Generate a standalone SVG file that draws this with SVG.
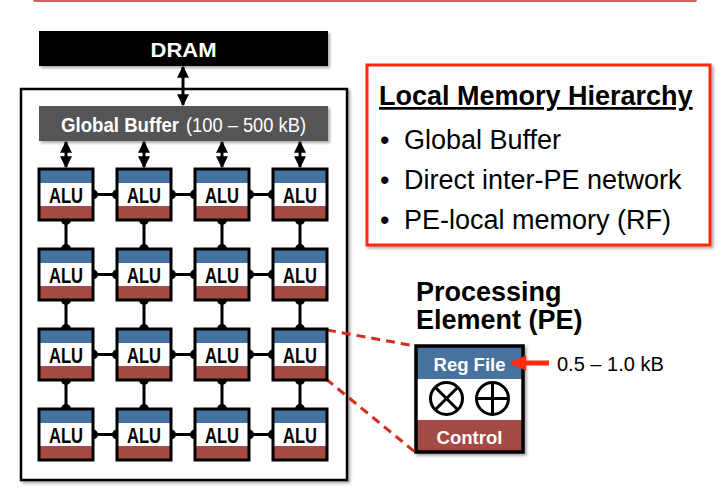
<svg xmlns="http://www.w3.org/2000/svg" width="726" height="491" viewBox="0 0 726 491">
<defs>
<style>
.sans{font-family:"Liberation Sans",Arial,sans-serif}
.cellb{fill:#4672a0}
.cellr{fill:#a54a44}
.cellw{fill:#ffffff}
.cellf{fill:none;stroke:#000;stroke-width:3}
.alu{font-family:"Liberation Sans",Arial,sans-serif;font-weight:bold;font-size:22px;fill:#000;text-anchor:middle}
.link{stroke:#000;stroke-width:3;fill:none}
.nub{fill:#000}
.dash{stroke:#d2301c;stroke-width:3;stroke-dasharray:9,6;fill:none}
</style>
<marker id="ah" viewBox="0 0 10 10" refX="9" refY="5" markerWidth="4" markerHeight="4" orient="auto-start-reverse">
<path d="M0,0 L10,5 L0,10 z" fill="#000"/>
</marker>
<marker id="rah" viewBox="0 0 10 10" refX="9" refY="5" markerWidth="3.2" markerHeight="3.2" orient="auto">
<path d="M0,0 L10,5 L0,10 z" fill="#ff2a10"/>
</marker>
<filter id="sh" x="-10%" y="-10%" width="120%" height="120%">
<feGaussianBlur in="SourceAlpha" stdDeviation="1.5"/>
<feOffset dx="2" dy="2" result="b"/>
<feComponentTransfer><feFuncA type="linear" slope="0.35"/></feComponentTransfer>
<feMerge><feMergeNode/><feMergeNode in="SourceGraphic"/></feMerge>
</filter>
<g id="pecell">
<rect x="0" y="0" width="54" height="14" class="cellb"/>
<rect x="0" y="14" width="54" height="23" class="cellw"/>
<rect x="0" y="37" width="54" height="14" class="cellr"/>
<rect x="0" y="0" width="54" height="51" class="cellf"/>
<text x="27" y="34" class="alu" textLength="34" lengthAdjust="spacingAndGlyphs">ALU</text>
</g>
</defs>

<rect width="726" height="491" fill="#ffffff"/>

<g id="topbar">
<rect x="33" y="-3" width="664" height="5" rx="2" fill="#cf6360"/>
</g>

<g id="frame">
<rect x="21" y="89" width="326" height="391" fill="#ffffff" stroke="#000" stroke-width="2.5" filter="url(#sh)"/>
</g>

<g id="dram">
<rect x="39" y="31" width="289" height="35" fill="#000" filter="url(#sh)"/>
<text x="183.5" y="57" class="sans" font-weight="bold" font-size="21" fill="#fff" text-anchor="middle" textLength="66" lengthAdjust="spacingAndGlyphs">DRAM</text>
</g>

<g id="globalbuffer">
<rect x="39" y="106" width="289" height="35" fill="#555555" filter="url(#sh)"/>
<text x="61" y="131.5" class="sans" font-weight="bold" font-size="21" fill="#fff" textLength="118" lengthAdjust="spacingAndGlyphs">Global Buffer</text>
<text x="186" y="131.5" class="sans" font-size="21" fill="#fff" textLength="120" lengthAdjust="spacingAndGlyphs">(100 – 500 kB)</text>
</g>

<g id="legend">
<rect x="367" y="65" width="343" height="180" fill="#ffffff" stroke="#ff2a10" stroke-width="3" filter="url(#sh)"/>
<text x="379" y="105" class="sans" font-weight="bold" font-size="27" fill="#000" text-decoration="underline">Local Memory Hierarchy</text>
<g class="sans" font-size="27" fill="#000">
<text x="380" y="149">•</text><text x="404" y="149">Global Buffer</text>
<text x="380" y="189">•</text><text x="404" y="189">Direct inter-PE network</text>
<text x="380" y="229">•</text><text x="404" y="229">PE-local memory (RF)</text>
</g>
</g>

<g id="pe-title">
<text class="sans" font-weight="bold" font-size="27" fill="#000"><tspan x="416" y="301">Processing</tspan><tspan x="416" y="329">Element (PE)</tspan></text>
</g>

<g id="pe-detail">
<g filter="url(#sh)">
<rect x="416" y="346" width="107" height="33" fill="#4672a0"/>
<rect x="416" y="379" width="107" height="41" fill="#ffffff"/>
<rect x="416" y="420" width="107" height="32" fill="#a54a44"/>
<rect x="416" y="346" width="107" height="106" fill="none" stroke="#000" stroke-width="3.5"/>
</g>
<text x="469.5" y="371" class="sans" font-weight="bold" font-size="18.5" fill="#fff" text-anchor="middle">Reg File</text>
<text x="469.5" y="444" class="sans" font-weight="bold" font-size="18.5" fill="#fff" text-anchor="middle">Control</text>
<g stroke="#000" stroke-width="3" fill="none">
<circle cx="446.5" cy="398.5" r="16"/>
<path d="M435.2,387.2 L457.8,409.8 M457.8,387.2 L435.2,409.8"/>
<circle cx="492.5" cy="398.5" r="16"/>
<path d="M476.5,398.5 H508.5 M492.5,382.5 V414.5"/>
</g>
</g>

<g id="rf-size">
<text x="557" y="371" class="sans" font-size="20" fill="#000">0.5 – 1.0 kB</text>
</g>

<g id="connectors">
<line x1="183" y1="67" x2="183" y2="105" class="link" stroke-width="2.5" marker-start="url(#ah)" marker-end="url(#ah)"/>
<line x1="66" y1="142" x2="66" y2="167" class="link" stroke-width="2.5" marker-start="url(#ah)" marker-end="url(#ah)"/>
<line x1="144" y1="142" x2="144" y2="167" class="link" stroke-width="2.5" marker-start="url(#ah)" marker-end="url(#ah)"/>
<line x1="222" y1="142" x2="222" y2="167" class="link" stroke-width="2.5" marker-start="url(#ah)" marker-end="url(#ah)"/>
<line x1="300" y1="142" x2="300" y2="167" class="link" stroke-width="2.5" marker-start="url(#ah)" marker-end="url(#ah)"/>
<g id="hlinks">
<path class="link" d="M93,194.5H117 M171,194.5H195 M249,194.5H273"/>
<path class="link" d="M93,274.5H117 M171,274.5H195 M249,274.5H273"/>
<path class="link" d="M93,354.5H117 M171,354.5H195 M249,354.5H273"/>
<path class="link" d="M93,434.5H117 M171,434.5H195 M249,434.5H273"/>
</g>
<g id="vlinks">
<path class="link" d="M66,220V249 M144,220V249 M222,220V249 M300,220V249"/>
<path class="link" d="M66,300V329 M144,300V329 M222,300V329 M300,300V329"/>
<path class="link" d="M66,380V409 M144,380V409 M222,380V409 M300,380V409"/>
</g>
<g id="nubs" class="nub">
<circle cx="93" cy="194.5" r="5"/><circle cx="117" cy="194.5" r="5"/><circle cx="171" cy="194.5" r="5"/><circle cx="195" cy="194.5" r="5"/><circle cx="249" cy="194.5" r="5"/><circle cx="273" cy="194.5" r="5"/>
<circle cx="93" cy="274.5" r="5"/><circle cx="117" cy="274.5" r="5"/><circle cx="171" cy="274.5" r="5"/><circle cx="195" cy="274.5" r="5"/><circle cx="249" cy="274.5" r="5"/><circle cx="273" cy="274.5" r="5"/>
<circle cx="93" cy="354.5" r="5"/><circle cx="117" cy="354.5" r="5"/><circle cx="171" cy="354.5" r="5"/><circle cx="195" cy="354.5" r="5"/><circle cx="249" cy="354.5" r="5"/><circle cx="273" cy="354.5" r="5"/>
<circle cx="93" cy="434.5" r="5"/><circle cx="117" cy="434.5" r="5"/><circle cx="171" cy="434.5" r="5"/><circle cx="195" cy="434.5" r="5"/><circle cx="249" cy="434.5" r="5"/><circle cx="273" cy="434.5" r="5"/>
<circle cx="66" cy="220" r="5"/><circle cx="144" cy="220" r="5"/><circle cx="222" cy="220" r="5"/><circle cx="300" cy="220" r="5"/>
<circle cx="66" cy="249" r="5"/><circle cx="144" cy="249" r="5"/><circle cx="222" cy="249" r="5"/><circle cx="300" cy="249" r="5"/>
<circle cx="66" cy="300" r="5"/><circle cx="144" cy="300" r="5"/><circle cx="222" cy="300" r="5"/><circle cx="300" cy="300" r="5"/>
<circle cx="66" cy="329" r="5"/><circle cx="144" cy="329" r="5"/><circle cx="222" cy="329" r="5"/><circle cx="300" cy="329" r="5"/>
<circle cx="66" cy="380" r="5"/><circle cx="144" cy="380" r="5"/><circle cx="222" cy="380" r="5"/><circle cx="300" cy="380" r="5"/>
<circle cx="66" cy="409" r="5"/><circle cx="144" cy="409" r="5"/><circle cx="222" cy="409" r="5"/><circle cx="300" cy="409" r="5"/>
</g>
<line x1="327" y1="330" x2="415" y2="346" class="dash"/>
<line x1="326" y1="379" x2="415" y2="452" class="dash"/>
<line x1="549" y1="363" x2="512" y2="363" stroke="#ff2a10" stroke-width="5" marker-end="url(#rah)"/>
</g>

<g id="pe-grid">
<use href="#pecell" x="39" y="169"/><use href="#pecell" x="117" y="169"/><use href="#pecell" x="195" y="169"/><use href="#pecell" x="273" y="169"/>
<use href="#pecell" x="39" y="249"/><use href="#pecell" x="117" y="249"/><use href="#pecell" x="195" y="249"/><use href="#pecell" x="273" y="249"/>
<use href="#pecell" x="39" y="329"/><use href="#pecell" x="117" y="329"/><use href="#pecell" x="195" y="329"/><use href="#pecell" x="273" y="329"/>
<use href="#pecell" x="39" y="409"/><use href="#pecell" x="117" y="409"/><use href="#pecell" x="195" y="409"/><use href="#pecell" x="273" y="409"/>
</g>
</svg>
